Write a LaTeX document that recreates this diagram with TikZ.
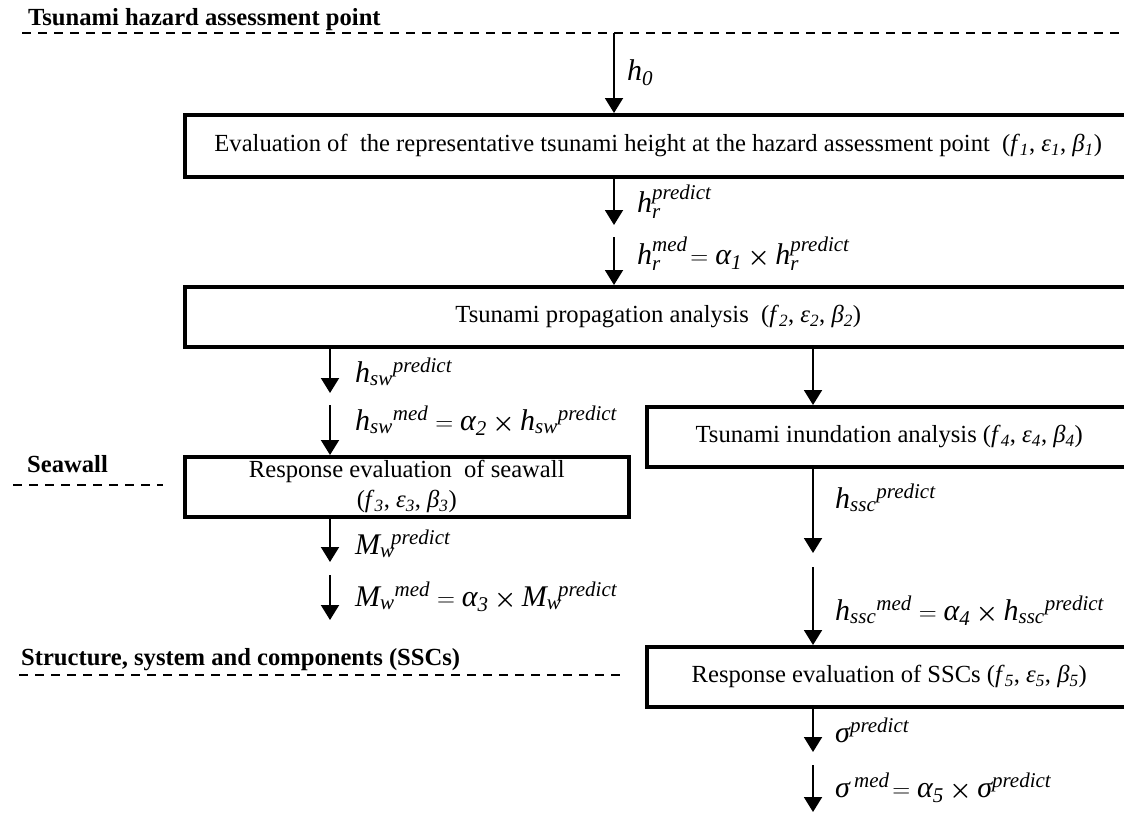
\documentclass[tikz,border=0pt]{standalone}
\usepackage{amsmath}
\usepackage{bm}
\usepackage{fontspec}
\setmainfont{Liberation Serif}
\usetikzlibrary{arrows.meta}
\newcommand{\mi}[1]{\text{\itshape #1}}
\newcommand{\tms}{\mathbin{\bm{\times}}}
\newcommand{\sbs}[2]{\textit{#1}\textsubscript{\textit{#2}}}
\begin{document}
\begin{tikzpicture}[x=1pt,y=-1pt,
 bx/.style={draw, line width=3.5pt, inner sep=0pt, font=\fontsize{24.6}{30}\selectfont, align=center, anchor=north west},
 lbl/.style={anchor=base west, inner sep=0pt, font=\fontsize{30}{34}\selectfont},
 ttl/.style={anchor=base west, inner sep=0pt, font=\fontsize{24.6}{28}\selectfont\bfseries},
 arr/.style={line width=2pt, -{Triangle[width=18pt,length=15pt]}},
 dsh/.style={line width=2pt, dash pattern=on 9pt off 7pt}]
\useasboundingbox (0,0) rectangle (1124,815);
\clip (0,0) rectangle (1124,815);
% titles and dashed lines
\node[ttl] (T1) at (28,25) {Tsunami hazard assessment point};
\coordinate (d1a) at (22,33); \coordinate (d1b) at (1124,33);
\draw[dsh] (d1a) -- (d1b);
\node[ttl] (T2) at (27,472) {Seawall};
\coordinate (d2a) at (13,485); \coordinate (d2b) at (163,485);
\draw[dsh] (d2a) -- (d2b);
\node[ttl] (T3) at (21,665) {Structure, system and components (SSCs)};
\coordinate (d3a) at (19,675); \coordinate (d3b) at (621,675);
\draw[dsh] (d3a) -- (d3b);
% boxes
\node[bx, minimum width=947pt, minimum height=62pt] (b1) at (183,113)
 {Evaluation of \ the representative tsunami height at the hazard assessment point \ (\sbs{f}{1}, \sbs{ε}{1}, \sbs{β}{1})};
\node[bx, minimum width=947pt, minimum height=60pt] (b2) at (183,285)
 {Tsunami propagation analysis \ (\sbs{f}{2}, \sbs{ε}{2}, \sbs{β}{2})};
\node[bx, minimum width=444pt, minimum height=60pt] (b3) at (183,455)
 {Response evaluation \ of seawall\\(\sbs{f}{3}, \sbs{ε}{3}, \sbs{β}{3})};
\node[bx, minimum width=485pt, minimum height=60pt] (b4) at (645,405)
 {Tsunami inundation analysis (\sbs{f}{4}, \sbs{ε}{4}, \sbs{β}{4})};
\node[bx, minimum width=485pt, minimum height=60pt] (b5) at (645,645)
 {Response evaluation of SSCs (\sbs{f}{5}, \sbs{ε}{5}, \sbs{β}{5})};
% center column
\coordinate (t0) at (614,33);
\draw[arr] (t0) -- (t0 |- b1.north);
\coordinate (a1) at (614,225);
\draw[arr] (a1 |- b1.south) -- (a1);
\coordinate (a2) at (614,237);
\draw[arr] (a2) -- (a2 |- b2.north);
% left column
\coordinate (l1) at (330,393);
\draw[arr] (l1 |- b2.south) -- (l1);
\coordinate (l2) at (330,405);
\draw[arr] (l2) -- (l2 |- b3.north);
\coordinate (l3) at (330,562);
\draw[arr] (l3 |- b3.south) -- (l3);
\coordinate (l4s) at (330,575); \coordinate (l4e) at (330,620);
\draw[arr] (l4s) -- (l4e);
% right column
\coordinate (r0) at (813,0);
\draw[arr] (r0 |- b2.south) -- (r0 |- b4.north);
\coordinate (r1) at (813,553);
\draw[arr] (r1 |- b4.south) -- (r1);
\coordinate (r2) at (813,567);
\draw[arr] (r2) -- (r2 |- b5.north);
\coordinate (r3) at (813,752);
\draw[arr] (r3 |- b5.south) -- (r3);
\coordinate (r4s) at (813,765); \coordinate (r4e) at (813,812);
\draw[arr] (r4s) -- (r4e);
% labels
\node[lbl] (L0) at (627,80) {$\mi{h}_{\mi{0}}$};
\node[lbl] (L1) at (637,212) {$\mi{h}_{\mi{r}}^{\mi{predict}}$};
\node[lbl] (L2) at (637,264) {$\mi{h}_{\mi{r}}^{\mi{med}}\!=\mi{α}_{\mi{1}}\tms\mi{h}_{\mi{r}}^{\mi{predict}}$};
\node[lbl] (L3) at (355,382) {$\mi{h}_{\mi{sw}}{}^{\mi{predict}}$};
\node[lbl] (L4) at (355,430) {$\mi{h}_{\mi{sw}}{}^{\mi{med}} = \mi{α}_{\mi{2}}\tms\mi{h}_{\mi{sw}}{}^{\mi{predict}}$};
\node[lbl] (L5) at (355,554) {$\mi{M}_{\mi{w}}{}^{\mkern-3mu\mi{predict}}$};
\node[lbl] (L6) at (355,606) {$\mi{M}_{\mi{w}}{}^{\mi{med}} = \mi{α}_{\mi{3}}\tms\mi{M}_{\mi{w}}{}^{\mkern-3mu\mi{predict}}$};
\node[lbl] (L7) at (835,508) {$\mi{h}_{\mi{ssc}}{}^{\mi{predict}}$};
\node[lbl] (L8) at (835,620) {$\mi{h}_{\mi{ssc}}{}^{\mi{med}} = \mi{α}_{\mi{4}}\tms\mi{h}_{\mi{ssc}}{}^{\mi{predict}}$};
\node[lbl] (L9) at (835,742) {$\mi{σ}^{\mi{predict}}$};
\node[lbl] (L10) at (835,797) {$\mi{σ}\,{}^{\mi{med}}\!=\mi{α}_{\mi{5}}\tms\mi{σ}^{\mi{predict}}$};
\end{tikzpicture}
\end{document}
